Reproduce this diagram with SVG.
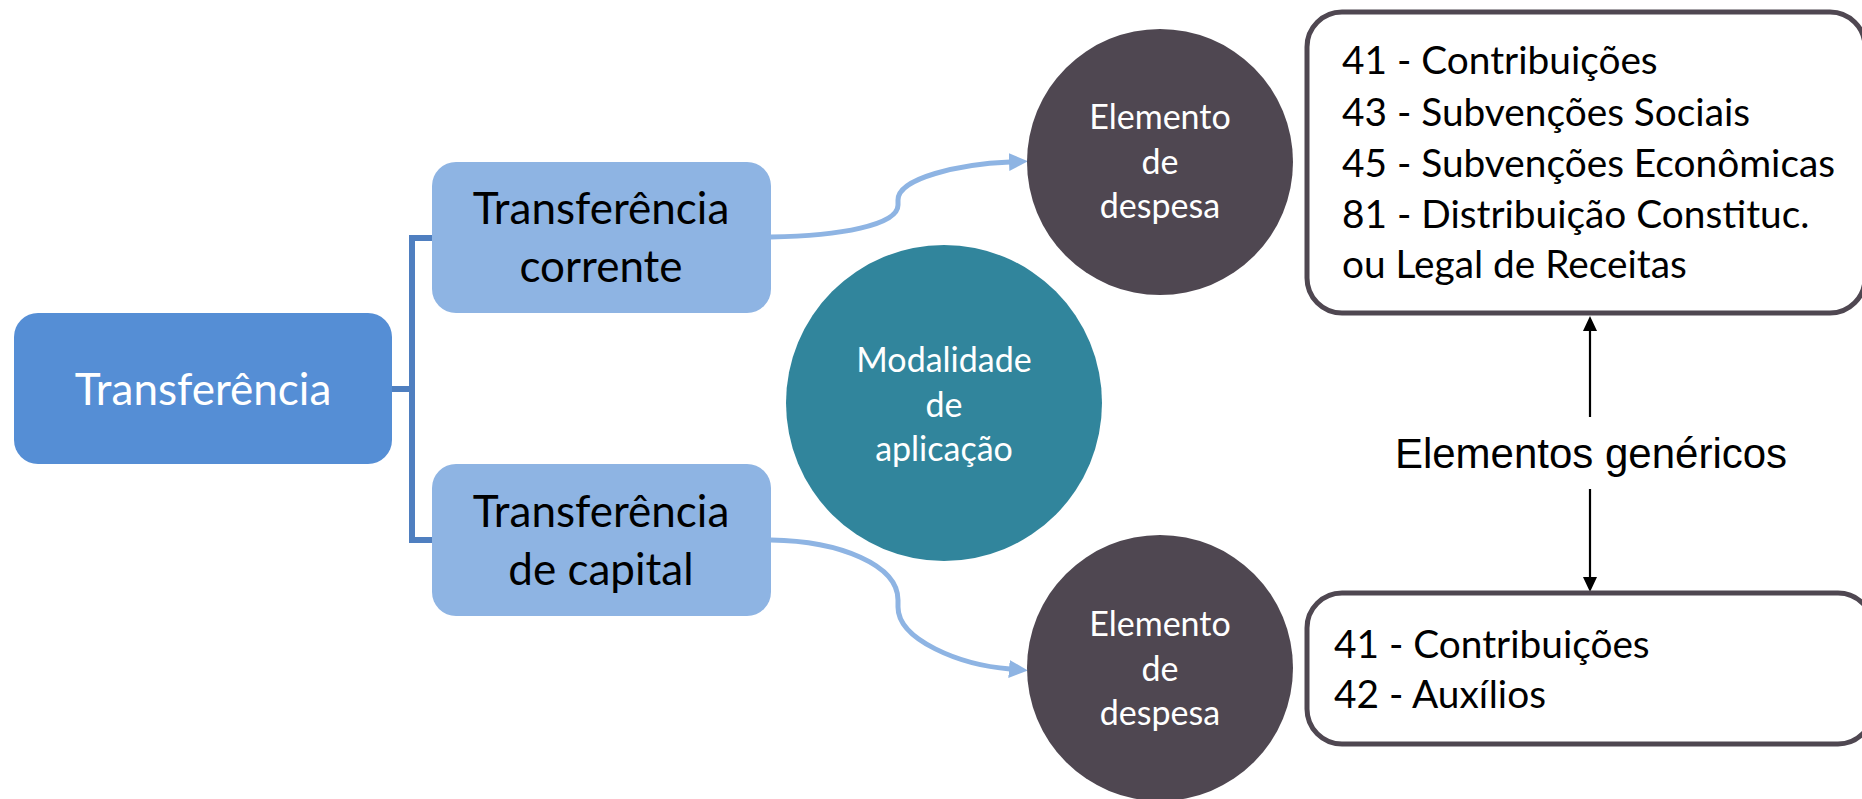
<svg xmlns="http://www.w3.org/2000/svg" width="1862" height="799" viewBox="0 0 1862 799">
<style>
  .lbl { font-family: Lato, "Open Sans", sans-serif; text-anchor: middle; }
  .big { font-size: 44px; }
  .circ { font-size: 34px; fill: #ffffff; }
  .list { font-family: Lato, "Open Sans", sans-serif; font-size: 38.8px; fill: #000000; }
  .sub { fill: #8EB4E3; }
  .box { fill: #ffffff; stroke: #4F4751; stroke-width: 5; }
  .dark { fill: #4F4751; }
  .conn { fill: none; stroke: #8EB4E3; stroke-width: 5; }
  .bracket { fill: none; stroke: #4F7FC0; stroke-width: 6; }
  .blk { fill: none; stroke: #000000; stroke-width: 2.2; }
</style>
<defs>
  <marker id="ablue" markerUnits="userSpaceOnUse" markerWidth="20" markerHeight="20" viewBox="0 0 20 20" refX="1" refY="10" orient="auto">
    <path d="M0,1 L19,10 L0,19 z" fill="#8EB4E3"/>
  </marker>
  <marker id="ablk" markerUnits="userSpaceOnUse" markerWidth="16" markerHeight="16" viewBox="0 0 16 16" refX="1" refY="8" orient="auto">
    <path d="M0,1 L15,8 L0,15 z" fill="#000000"/>
  </marker>
</defs>

<g id="connectors">
  <path class="bracket" d="M392 389 H412 M432 238 H412 V540 H432"/>
  <path class="conn" d="M771 237 C840 236 898 225 898 205 L898 200 C898 178 960 164 1010 162" marker-end="url(#ablue)"/>
  <path class="conn" d="M771 540 C840 541 898 565 898 600 L898 607 C898 640 960 665 1010 669" marker-end="url(#ablue)"/>
  <path class="blk" d="M1590 417 V330" marker-end="url(#ablk)"/>
  <path class="blk" d="M1590 489 V578" marker-end="url(#ablk)"/>
</g>

<g id="transferencia">
  <rect x="14" y="313" width="378" height="151" rx="24" fill="#558ED5"/>
  <text class="lbl big" x="203" y="405" fill="#ffffff">Transferência</text>
</g>

<g id="transferencia-corrente">
  <rect class="sub" x="432" y="162" width="339" height="151" rx="24"/>
  <text class="lbl big" x="601" y="224" fill="#000000">Transferência</text>
  <text class="lbl big" x="601" y="282" fill="#000000">corrente</text>
</g>

<g id="transferencia-capital">
  <rect class="sub" x="432" y="464" width="339" height="152" rx="24"/>
  <text class="lbl big" x="601" y="527" fill="#000000">Transferência</text>
  <text class="lbl big" x="601" y="585" fill="#000000">de capital</text>
</g>

<g id="modalidade">
  <circle cx="944" cy="403" r="158" fill="#31859C"/>
  <text class="lbl circ" x="944" y="372">Modalidade</text>
  <text class="lbl circ" x="944" y="417">de</text>
  <text class="lbl circ" x="944" y="461">aplicação</text>
</g>

<g id="elemento-top">
  <circle class="dark" cx="1160" cy="162" r="133"/>
  <text class="lbl circ" x="1160" y="129">Elemento</text>
  <text class="lbl circ" x="1160" y="174">de</text>
  <text class="lbl circ" x="1160" y="218">despesa</text>
</g>

<g id="elemento-bottom">
  <circle class="dark" cx="1160" cy="668" r="133"/>
  <text class="lbl circ" x="1160" y="636">Elemento</text>
  <text class="lbl circ" x="1160" y="681">de</text>
  <text class="lbl circ" x="1160" y="725">despesa</text>
</g>

<g id="lista-corrente">
  <rect class="box" x="1307" y="12" width="558" height="301" rx="35"/>
  <text class="list" x="1342" y="74">41 - Contribuições</text>
  <text class="list" x="1342" y="126">43 - Subvenções Sociais</text>
  <text class="list" x="1342" y="177">45 - Subvenções Econômicas</text>
  <text class="list" x="1342" y="228">81 - Distribuição Constituc.</text>
  <text class="list" x="1342" y="278">ou Legal de Receitas</text>
</g>

<g id="elementos-genericos">
  <text x="1591" y="468" font-family="'Liberation Sans', Arial, sans-serif" font-size="42" text-anchor="middle" fill="#000000">Elementos genéricos</text>
</g>

<g id="lista-capital">
  <rect class="box" x="1307" y="593" width="566" height="151" rx="35"/>
  <text class="list" x="1334" y="658">41 - Contribuições</text>
  <text class="list" x="1334" y="708">42 - Auxílios</text>
</g>
</svg>
